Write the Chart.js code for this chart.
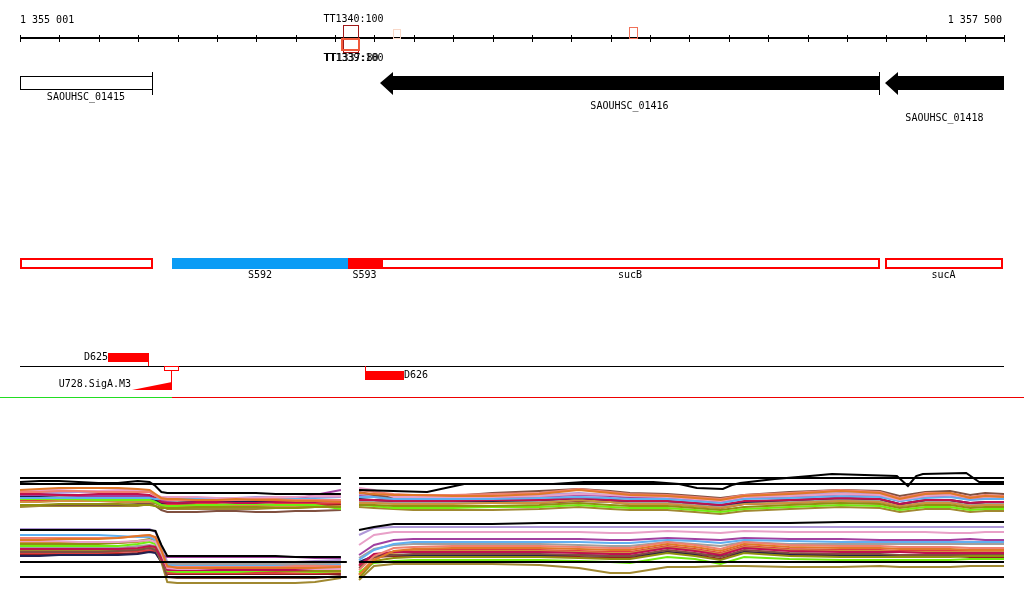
<!DOCTYPE html>
<html>
<head>
<meta charset="utf-8">
<script src="https://cdn.jsdelivr.net/npm/chart.js@4.4.1/dist/chart.umd.min.js"></script>
<style>
html, body { margin: 0; padding: 0; background: #fff; }
#wrap { width: 1024px; height: 611px; position: relative; }
</style>
</head>
<body>
<div id="wrap"><canvas id="browser"></canvas></div>
<script>
// ---- view window (bp) ----
const viewStart = 1355001;
const viewEnd = 1357500;
const rulerLabels = ["1 355 001", "1 357 500"];
const rulerStep = 100;

// ---- genes ----
const geneNames = ["SAOUHSC_01415", "SAOUHSC_01416", "SAOUHSC_01418"];
const geneStart = [1355001, 1355915, 1357198];
const geneEnd = [1355336, 1357183, 1357500];
const geneStrand = ["+", "-", "-"];

// ---- transcription units ----
const unitNames = ["", "S592", "S593", "sucB", "sucA"];
const unitStart = [1355001, 1355387, 1355834, 1355918, 1357198];
const unitEnd = [1355336, 1355834, 1355918, 1357183, 1357495];

// ---- terminators ----
const termLabelsTop = ["TT1340:100"];
const termLabelsBottom = ["TT1339:100", "TT1337:80"];
const termStart = [1355821, 1355816, 1355948, 1356548];
const termEnd = [1355859, 1355862, 1355966, 1356568];

// ---- other features ----
const featNames = ["D625", "D626"];
const featStart = [1355224, 1355877];
const featEnd = [1355326, 1355976];
const featStrand = ["+", "-"];
const promoterName = "U728.SigA.M3";
const promoterBox = [1355367, 1355402];
const promoterTss = 1355384;
const promoterFrom = 1355285;
const segmentSplit = 1355387;

// ---- probe positions ----
const leftProbes = [1355001, 1355050, 1355100, 1355150, 1355200, 1355250, 1355300, 1355330, 1355345, 1355360,
                    1355375, 1355400, 1355450, 1355500, 1355550, 1355600, 1355650, 1355700, 1355750, 1355816];
const rightProbes = [1355862, 1355900, 1355950, 1356000, 1356100, 1356200, 1356320, 1356420, 1356500, 1356550, 1356645, 1356715,
                     1356780, 1356840, 1356955, 1357085, 1357185, 1357235, 1357300, 1357363, 1357414, 1357452, 1357500];
const topRightBlackProbes = [1355862, 1356035, 1356129, 1356355, 1356433, 1356609, 1356675, 1356720, 1356786, 1356809, 1356830,
                             1356918, 1357007, 1357063, 1357228, 1357256, 1357277, 1357294, 1357404, 1357437, 1357500];
const leftPanelEnd = [1355816, 1355831];
const rightPanelStart = [1355862, 1355862];

// ---- expression levels ----
const topRefLevels = [42, 36];
const bottomRefLevels = [23, 8];

const topLeftBlack = [38,39,39,38,37,37,39,38,34,28,27,27,27,27,27,27,26,26,26,26];
const topLeftSeries = [
  [30,31,32,32,32,32,31,30,26,22,21,21,20,20,21,20,20,19,19,18],
  [28,28,29,29,28,28,28,28,24,21,20,20,20,20,20,21,21,20,20,20],
  [29,30,30,29,29,30,30,29,25,23,23,23,23,22,22,22,23,23,24,24],
  [22,22,22,22,22,22,22,22,21,21,21,21,21,21,21,21,21,21,21,20],
  [26,26,25,25,26,26,26,25,22,18,17,17,18,18,17,17,18,18,18,19],
  [15,15,16,16,16,16,15,15,14,12,12,12,13,13,13,13,12,12,13,13],
  [21,21,21,21,20,20,20,20,18,15,14,14,15,15,16,16,15,15,15,11],
  [15,15,15,15,15,15,16,16,14,10,8,8,8,9,9,8,8,9,9,10],
  [13,14,14,14,14,14,14,16,17,14,11,11,11,11,11,11,12,12,13,13],
  [23,23,22,22,22,22,22,22,20,17,17,17,18,18,18,18,18,18,19,19],
  [18,18,19,19,19,18,18,18,17,14,13,13,14,14,14,14,14,13,13,14],
  [25,25,25,24,24,24,24,24,22,19,19,20,20,21,21,21,21,21,25,30],
  [24,24,24,23,23,23,24,24,21,19,19,19,19,19,20,20,20,20,20,20],
  [20,20,20,19,19,20,20,20,18,16,16,16,16,16,15,15,16,16,16,17],
  [27,27,27,28,28,28,28,28,24,22,22,22,22,21,22,23,23,23,23,23],
  [24,24,24,24,23,23,23,23,21,17,15,15,15,15,15,15,15,15,15,15]
];

const topRightBlack = [30,28,36,36,38,38,36,32,31,35,37,41,44,46,44,34,44,46,47,38,38];
const topRightSeries = [
  [27,26,25,25,24,24,26,30,27,25,24,22,20,24,26,29,27,21,26,27,22,24,23],
  [30,28,26,25,25,26,27,31,28,26,25,23,21,25,27,30,28,22,27,27,23,25,24],
  [32,30,23,23,23,23,24,26,25,24,23,21,19,23,24,26,25,20,24,25,22,23,23],
  [23,23,21,21,21,21,22,23,22,21,21,19,17,21,22,24,23,19,22,23,20,21,21],
  [20,20,19,19,19,20,20,22,20,19,19,17,15,19,20,22,21,16,20,20,17,18,18],
  [15,15,14,14,14,14,15,17,15,14,14,12,10,13,15,17,16,12,15,15,12,13,13],
  [15,14,12,12,12,13,13,15,13,12,12,10,8,11,13,15,14,10,13,13,10,11,11],
  [28,25,22,21,24,27,29,31,29,27,26,24,22,25,28,30,29,24,28,29,25,27,26],
  [13,12,11,10,10,10,11,13,11,10,10,8,6,9,11,13,12,8,11,11,8,9,9],
  [21,20,19,19,19,19,20,22,20,19,19,17,15,18,20,22,21,16,20,20,17,18,18],
  [17,17,16,16,16,17,17,20,18,16,16,14,12,16,17,19,18,14,17,17,14,15,15],
  [24,23,21,21,22,23,23,25,24,22,22,20,18,22,23,25,24,19,23,24,21,22,22],
  [18,18,17,17,17,18,18,20,18,17,17,15,13,17,18,20,19,15,18,18,15,16,16],
  [19,18,17,17,17,18,19,22,19,17,17,15,13,17,19,21,20,15,19,19,16,17,17],
  [26,25,23,23,23,24,25,27,25,24,23,21,19,23,25,27,26,21,25,26,22,23,23],
  [17,17,17,17,17,17,17,19,18,16,16,14,12,16,17,19,18,14,17,17,14,15,15]
];

const bottomLeftBlack = [55,55,55,55,55,55,55,55,54,40,29,29,29,29,29,29,29,28,28,28];
const bottomLeftSeries = [
  [45,45,46,46,46,47,49,50,48,35,19,17,17,17,17,17,17,17,17,18],
  [47,47,47,47,47,47,49,50,47,34,18,18,18,18,18,18,18,19,19,19],
  [44,44,44,43,43,43,44,45,43,32,17,16,16,17,17,17,17,17,16,16],
  [50,50,50,50,50,49,48,48,45,33,20,19,19,19,19,19,19,19,19,20],
  [36,36,36,36,36,36,37,39,38,27,15,15,15,15,15,15,15,15,16,16],
  [41,41,41,41,41,42,44,46,44,32,16,15,15,15,15,15,14,14,14,14],
  [39,39,39,39,39,39,41,43,41,29,14,13,13,13,13,14,14,14,13,14],
  [33,33,33,33,33,34,35,37,35,25,8,7,7,7,7,7,7,7,7,9],
  [35,35,35,35,35,35,36,38,37,23,3,2,2,2,2,2,2,2,3,7],
  [29,29,30,30,30,30,31,33,32,23,14,14,14,14,14,14,14,14,14,14],
  [42,42,42,42,42,42,43,45,43,31,15,14,14,14,14,14,14,13,13,13],
  [34,34,34,34,35,35,36,37,36,30,28,28,28,28,28,28,28,28,27,27],
  [38,38,38,38,37,37,39,40,39,29,21,21,21,21,21,21,21,21,21,21],
  [32,32,32,32,32,33,34,35,34,24,12,12,12,12,12,12,12,12,12,13],
  [56,56,56,56,56,56,56,56,53,37,23,23,23,23,23,23,23,23,24,25],
  [30,30,30,30,31,31,32,34,33,23,11,11,11,11,11,11,11,11,11,11]
];

const bottomRightBlack = [55,58,61,61,61,61,62,62,62,62,62,62,62,62,62,63,63,63,63,63,63,63,63];
const bottomRightSeries = [
  [10,25,34,36,37,37,37,36,35,35,41,38,34,41,38,37,37,36,36,36,35,35,35],
  [15,29,37,38,39,39,39,38,37,37,43,40,36,43,40,39,39,38,38,38,37,37,37],
  [40,50,53,53,53,53,53,53,52,52,54,53,52,54,53,53,53,53,53,52,52,53,53],
  [25,35,41,43,43,43,43,43,42,42,45,44,42,45,44,43,43,43,43,43,43,43,43],
  [20,31,33,33,33,33,33,32,31,31,37,34,30,37,34,33,33,33,32,32,32,32,32],
  [7,24,27,28,28,28,28,27,26,26,32,29,25,32,29,28,28,28,28,28,29,29,29],
  [13,22,24,25,25,25,25,24,23,22,28,26,21,28,26,25,25,25,25,25,26,26,26],
  [17,28,30,31,31,31,31,30,29,29,35,32,28,35,32,31,31,30,30,30,30,30,30],
  [5,19,21,21,21,21,20,17,12,12,18,18,19,19,18,18,19,18,18,18,19,19,19],
  [23,29,30,30,30,30,30,30,29,29,33,31,29,33,31,30,30,30,30,30,30,30,30],
  [11,26,32,34,34,34,34,33,32,32,38,35,31,38,35,34,34,33,33,33,33,34,34],
  [30,40,45,46,46,46,46,46,45,45,47,46,45,47,46,46,45,45,45,45,46,45,45],
  [27,36,40,41,41,41,41,40,39,39,43,41,39,43,41,41,41,41,41,41,41,41,41],
  [19,29,33,35,35,35,35,34,33,33,39,36,32,39,36,35,35,34,34,34,34,34,34],
  [50,57,58,58,58,58,58,58,58,58,58,58,58,58,58,58,58,58,58,58,58,58,58],
  [22,28,29,29,29,29,29,28,27,27,33,30,26,33,30,29,29,29,29,29,28,28,28]
];

// ---- styles ----
const seriesColors = ["#e07828", "#f08070", "#e8a0c8", "#60b0f0", "#c01050", "#909010", "#70ee10", "#805040",
                      "#a08830", "#202050", "#d09040", "#a040a0", "#a0a0a0", "#e03c3c", "#b098d8", "#902020"];
const unitFill = [null, "#0a9cf5", "#ff0000", null, null];
const geneLabelRows = [97, 106, 118];
const labelFont = '10px "DejaVu Sans Mono", monospace';

function pts(xs, ys) {
    return xs.map(function (x, i) { return { x: x, y: ys[i] }; });
}

var datasets = [];
function addLine(xs, ys, axis, color) {
    datasets.push({
        data: pts(xs, ys),
        yAxisID: axis,
        borderColor: color,
        borderWidth: 2,
        pointRadius: 0,
        tension: 0,
        fill: false
    });
}

// black reference lines first so they sit on top
topRefLevels.forEach(function (lvl) {
    addLine([viewStart, leftPanelEnd[0]], [lvl, lvl], "yTop", "#000");
    addLine([rightPanelStart[0], viewEnd], [lvl, lvl], "yTop", "#000");
});
bottomRefLevels.forEach(function (lvl) {
    addLine([viewStart, leftPanelEnd[1]], [lvl, lvl], "yBot", "#000");
    addLine([rightPanelStart[1], viewEnd], [lvl, lvl], "yBot", "#000");
});
addLine(leftProbes, topLeftBlack, "yTop", "#000");
addLine(topRightBlackProbes, topRightBlack, "yTop", "#000");
addLine(leftProbes, bottomLeftBlack, "yBot", "#000");
addLine(rightProbes, bottomRightBlack, "yBot", "#000");

for (var i = 0; i < seriesColors.length; i++) {
    addLine(leftProbes, topLeftSeries[i], "yTop", seriesColors[i]);
    addLine(rightProbes, topRightSeries[i], "yTop", seriesColors[i]);
    addLine(leftProbes, bottomLeftSeries[i], "yBot", seriesColors[i]);
    addLine(rightProbes, bottomRightSeries[i], "yBot", seriesColors[i]);
}

function outline(ctx, x0, y0, x1, y1, color, lw) {
    ctx.fillStyle = color;
    ctx.fillRect(x0, y0, x1 - x0, lw);
    ctx.fillRect(x0, y1 - lw, x1 - x0, lw);
    ctx.fillRect(x0, y0, lw, y1 - y0);
    ctx.fillRect(x1 - lw, y0, lw, y1 - y0);
}

function label(ctx, text, x, y, align) {
    ctx.fillStyle = "#000";
    ctx.textAlign = align;
    ctx.fillText(text, x, y);
}

const tracksPlugin = {
    id: "tracks",
    afterDatasetsDraw: function (chart) {
        var ctx = chart.ctx;
        var sx = chart.scales.x, sy = chart.scales.yPix;
        var X = function (v) { return Math.round(sx.getPixelForValue(v)); };
        var Y = function (v) { return Math.round(sy.getPixelForValue(v)); };
        ctx.save();
        ctx.font = labelFont;
        ctx.textBaseline = "middle";

        // ruler
        ctx.fillStyle = "#000";
        ctx.fillRect(X(viewStart), Y(37), X(viewEnd) - X(viewStart) + 1, 2);
        for (var t = viewStart; t <= viewEnd + 1; t += rulerStep) {
            ctx.fillRect(X(t), Y(35), 1, 7);
        }
        label(ctx, rulerLabels[0], X(viewStart), Y(20), "left");
        label(ctx, rulerLabels[1], X(viewEnd) - 2, Y(20), "right");

        // terminators
        outline(ctx, X(termStart[0]), Y(25), X(termEnd[0]) + 1, Y(53), "#a01818", 1);
        outline(ctx, X(termStart[1]), Y(38), X(termEnd[1]) + 1, Y(51), "#f05a3c", 2);
        outline(ctx, X(termStart[2]), Y(29), X(termEnd[2]) + 1, Y(39), "#f8d8c8", 1);
        outline(ctx, X(termStart[3]), Y(27), X(termEnd[3]) + 1, Y(39), "#f07058", 1);
        var tc = (X(termStart[0]) + X(termEnd[0])) / 2 + 3;
        label(ctx, termLabelsTop[0], tc, Y(19), "center");
        label(ctx, termLabelsBottom[0], tc, Y(58), "center");
        label(ctx, termLabelsBottom[1], tc - 2, Y(58), "center");

        // genes
        for (var g = 0; g < geneNames.length; g++) {
            var g0 = X(geneStart[g]), g1 = X(geneEnd[g]);
            ctx.fillStyle = "#000";
            if (geneStrand[g] === "+") {
                outline(ctx, g0, Y(76), g1 + 1, Y(90), "#000", 1);
                if (geneEnd[g] < viewEnd) ctx.fillRect(g1, Y(72), 1, 23);
            } else {
                ctx.beginPath();
                ctx.moveTo(g0, Y(83));
                ctx.lineTo(g0 + 13, Y(72));
                ctx.lineTo(g0 + 13, Y(76));
                ctx.lineTo(g1, Y(76));
                ctx.lineTo(g1, Y(90));
                ctx.lineTo(g0 + 13, Y(90));
                ctx.lineTo(g0 + 13, Y(95));
                ctx.closePath();
                ctx.fill();
                if (geneEnd[g] < viewEnd) ctx.fillRect(g1, Y(72), 1, 23);
            }
            label(ctx, geneNames[g], (g0 + g1) / 2, Y(geneLabelRows[g]), "center");
        }

        // transcription units
        for (var u = 0; u < unitNames.length; u++) {
            var u0 = X(unitStart[u]), u1 = X(unitEnd[u]);
            if (unitFill[u]) {
                ctx.fillStyle = unitFill[u];
                ctx.fillRect(u0, Y(258), u1 - u0, 11);
            } else {
                outline(ctx, u0, Y(258), u1 + 1, Y(269), "#ff0000", 2);
            }
            if (unitNames[u]) label(ctx, unitNames[u], (u0 + u1) / 2, Y(275), "center");
        }

        // feature line
        ctx.fillStyle = "#000";
        ctx.fillRect(X(viewStart), Y(366), X(viewEnd) - X(viewStart), 1);
        for (var f = 0; f < featNames.length; f++) {
            var f0 = X(featStart[f]), f1 = X(featEnd[f]);
            ctx.fillStyle = "#ff0000";
            if (featStrand[f] === "+") {
                ctx.fillRect(f0, Y(353), f1 - f0, 9);
                ctx.fillRect(f1, Y(353), 1, 13);
                label(ctx, featNames[f], f0, Y(357), "right");
            } else {
                ctx.fillRect(f0, Y(371), f1 - f0, 9);
                ctx.fillRect(f0, Y(366), 1, 5);
                label(ctx, featNames[f], f1, Y(375), "left");
            }
        }

        // promoter
        outline(ctx, X(promoterBox[0]), Y(366), X(promoterBox[1]) + 1, Y(371), "#ff0000", 1);
        ctx.fillStyle = "#ff0000";
        ctx.fillRect(X(promoterTss), Y(370), 1, 20);
        ctx.beginPath();
        ctx.moveTo(X(promoterFrom), Y(390));
        ctx.lineTo(X(promoterTss) + 1, Y(382));
        ctx.lineTo(X(promoterTss) + 1, Y(390));
        ctx.closePath();
        ctx.fill();
        label(ctx, promoterName, X(promoterFrom) - 1, Y(384), "right");

        // segment separator
        ctx.fillStyle = "#22dd22";
        ctx.fillRect(0, Y(397), X(segmentSplit), 1);
        ctx.fillStyle = "#ee0000";
        ctx.fillRect(X(segmentSplit), Y(397), chart.width - X(segmentSplit), 1);

        ctx.restore();
    }
};

new Chart(document.getElementById("browser").getContext("2d"), {
    type: "line",
    data: { datasets: datasets },
    options: {
        responsive: true,
        maintainAspectRatio: false,
        animation: false,
        layout: { padding: { left: 20, right: 20, top: 0, bottom: 0 } },
        plugins: { legend: { display: false }, tooltip: { enabled: false } },
        scales: {
            x: { type: "linear", min: viewStart, max: viewEnd, display: false },
            yPix: { type: "linear", min: 0, max: 611, reverse: true, display: false },
            yTop: { type: "linear", min: -91, max: 520, display: false },
            yBot: { type: "linear", min: -26, max: 585, display: false }
        }
    },
    plugins: [tracksPlugin]
});
</script>
</body>
</html>
